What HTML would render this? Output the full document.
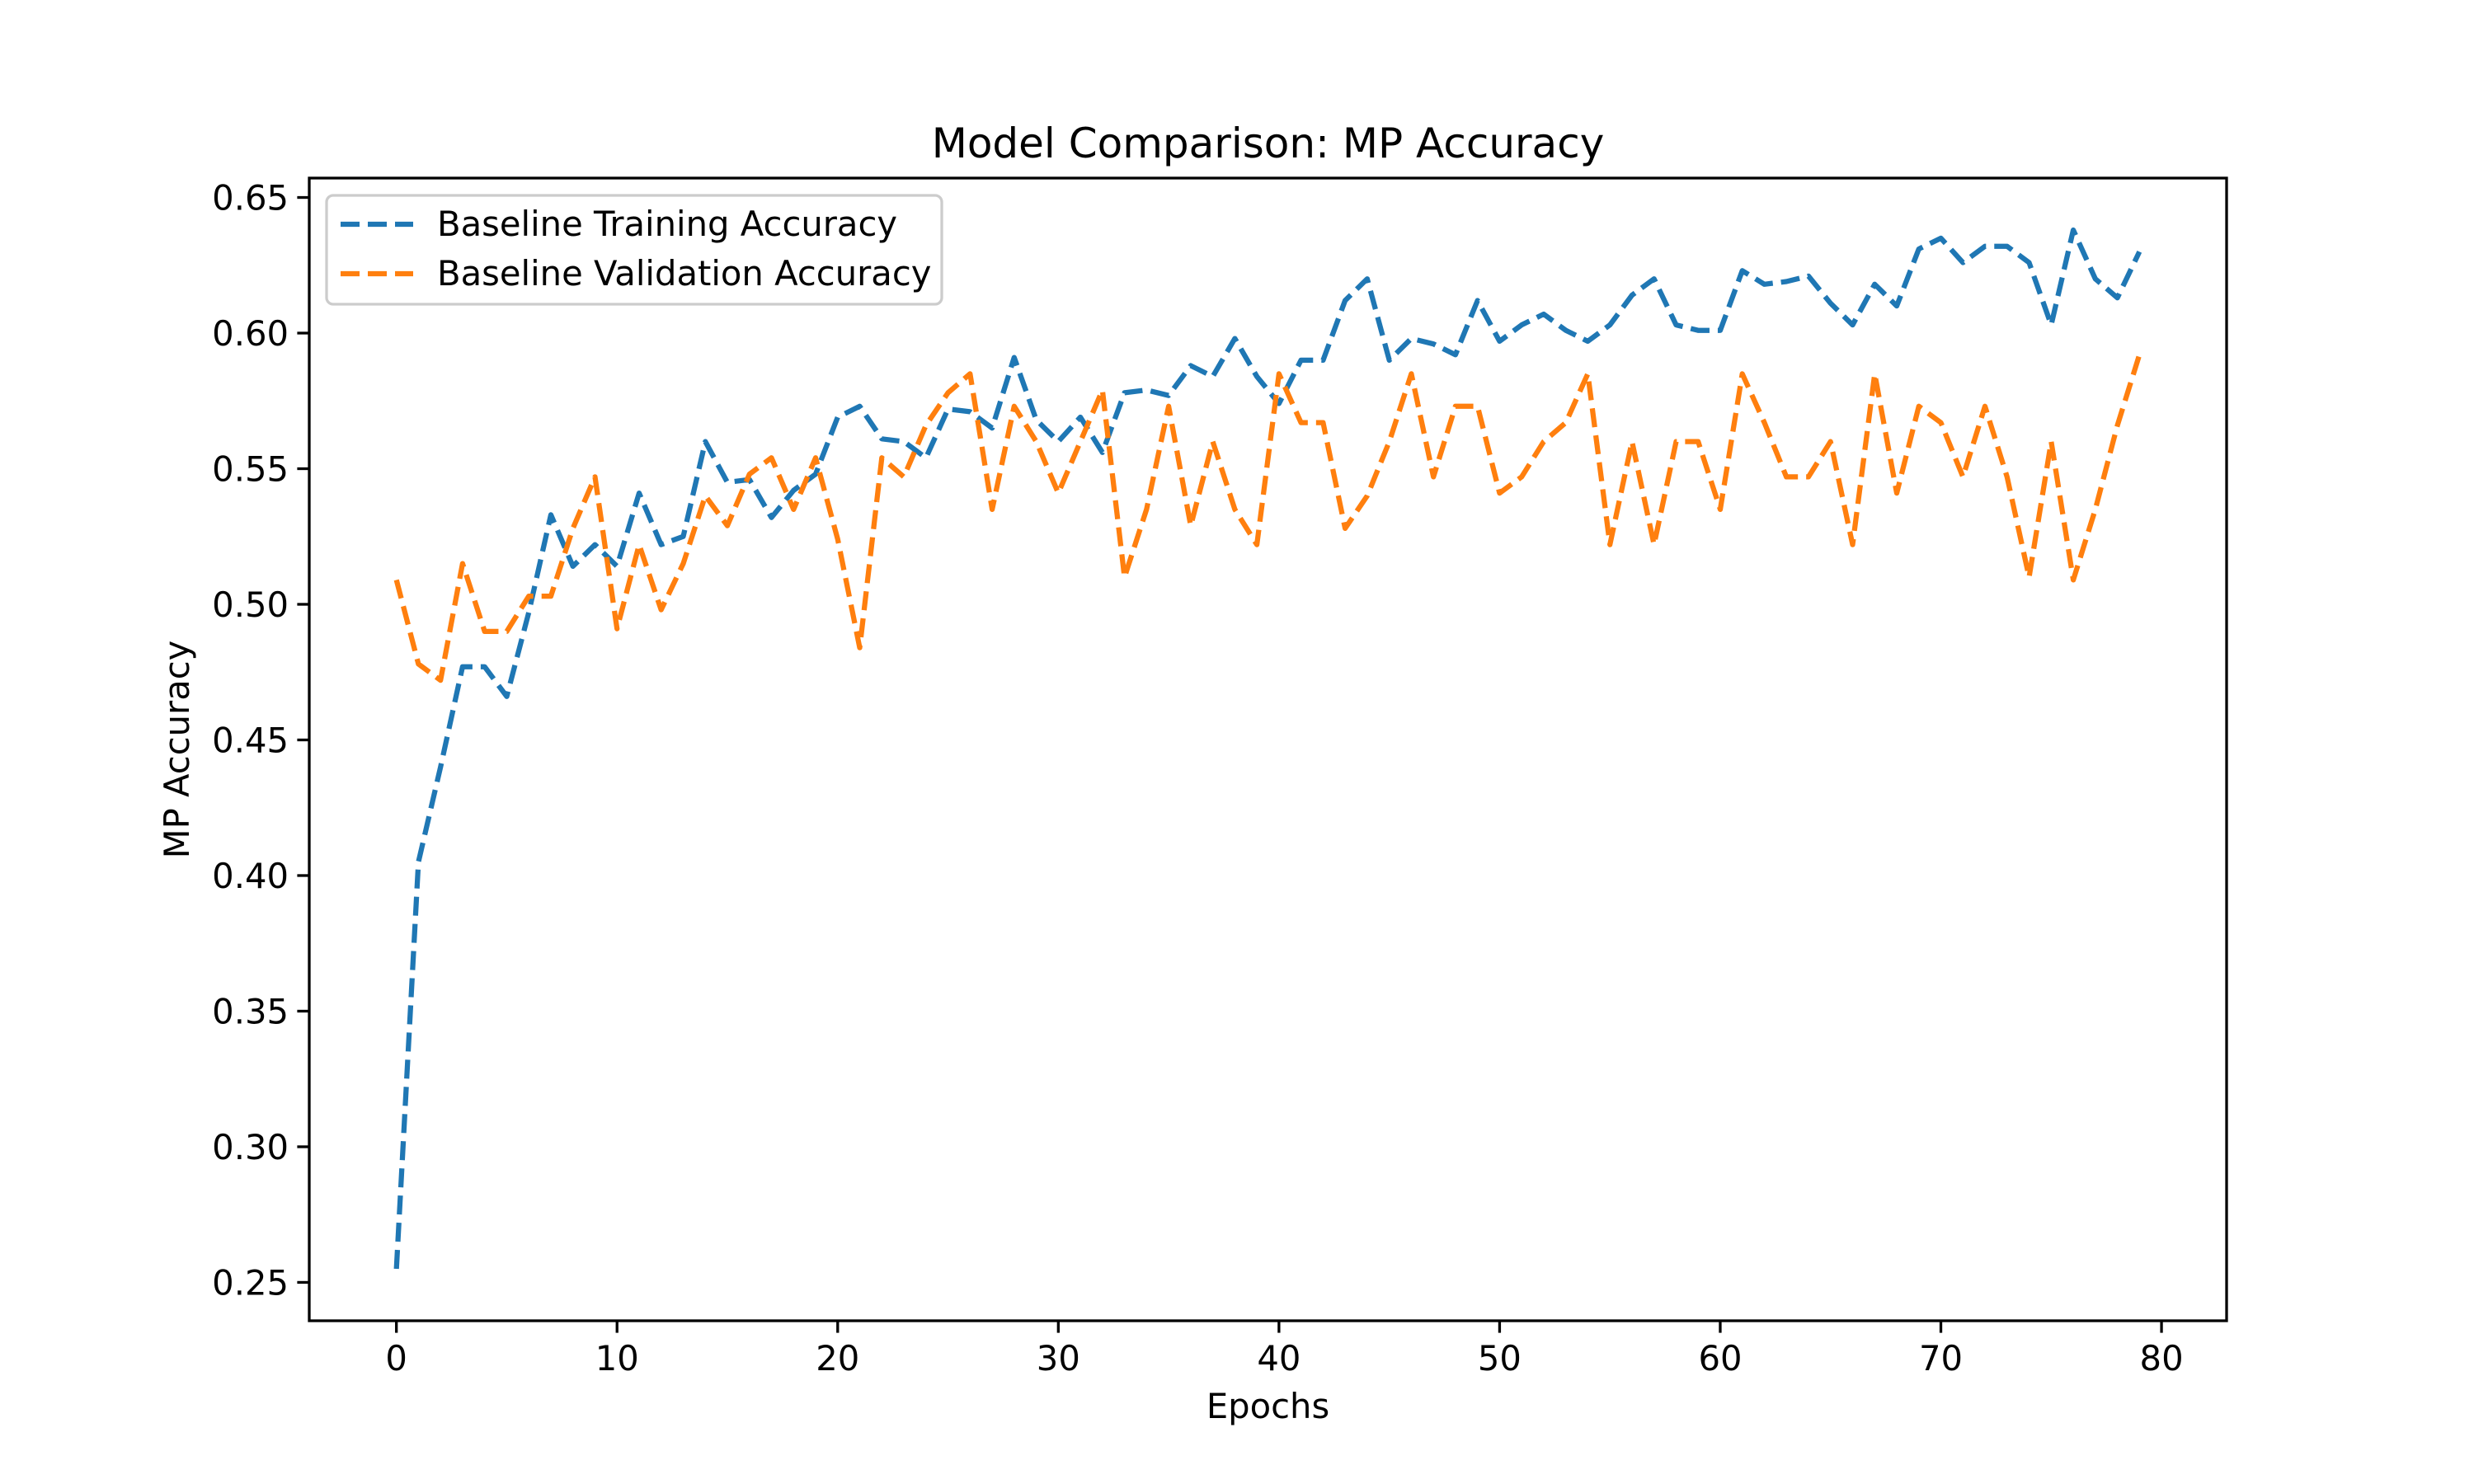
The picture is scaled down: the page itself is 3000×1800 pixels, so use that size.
<!DOCTYPE html>
<html><head><meta charset="utf-8"><style>
html,body{margin:0;padding:0;background:#fff;}
svg{display:block;font-family:"DejaVu Sans","Liberation Sans",sans-serif;}
</style></head><body>
<svg id="chart" width="3000" height="1800" viewBox="0 0 3000 1800">
<rect width="3000" height="1800" fill="#fff"/>
<text x="1537.5" y="191" font-size="50" text-anchor="middle" fill="#000">Model Comparison: MP Accuracy</text>
<g id="series"></g>
<rect x="375" y="216" width="2325" height="1386" fill="none" stroke="#000" stroke-width="3.3"/>
<g id="ticks"></g>
<text x="1537.5" y="1720" font-size="41.7" text-anchor="middle">Epochs</text>
<text x="0" y="0" font-size="41.7" text-anchor="middle" transform="translate(229,909) rotate(-90)">MP Accuracy</text>
<g>
<rect x="396" y="237" width="746" height="132" rx="8" fill="#fff" fill-opacity="0.8" stroke="#ccc" stroke-width="3.3"/>
<g>
<line x1="413" y1="272" x2="501" y2="272" stroke="#1f77b4" stroke-width="6.25" stroke-dasharray="23 10"/>
<text x="530" y="286" font-size="41.7">Baseline Training Accuracy</text>
</g>
<g>
<line x1="413" y1="332" x2="501" y2="332" stroke="#ff7f0e" stroke-width="6.25" stroke-dasharray="23 10"/>
<text x="530" y="346" font-size="41.7">Baseline Validation Accuracy</text>
</g>
</g>
</svg>
<script>
const epochs = Array.from({length:80},(_,i)=>i);
const trainAcc = [0.255,0.405,0.44,0.477,0.477,0.466,0.497,0.533,0.514,0.522,0.514,0.541,0.522,0.525,0.56,0.545,0.546,0.532,0.542,0.548,0.569,0.573,0.561,0.560,0.554,0.572,0.571,0.565,0.591,0.568,0.56,0.569,0.556,0.578,0.579,0.577,0.588,0.584,0.598,0.584,0.574,0.590,0.590,0.612,0.620,0.590,0.598,0.596,0.592,0.612,0.597,0.603,0.607,0.601,0.597,0.603,0.614,0.620,0.603,0.601,0.601,0.623,0.618,0.619,0.621,0.611,0.603,0.618,0.610,0.631,0.635,0.626,0.632,0.632,0.626,0.603,0.638,0.620,0.613,0.630];
const valAcc = [0.509,0.478,0.472,0.515,0.490,0.490,0.503,0.503,0.528,0.547,0.491,0.522,0.498,0.515,0.540,0.529,0.548,0.554,0.535,0.554,0.524,0.484,0.554,0.547,0.566,0.578,0.585,0.535,0.573,0.560,0.541,0.560,0.579,0.510,0.535,0.573,0.529,0.560,0.535,0.522,0.585,0.567,0.567,0.528,0.540,0.560,0.585,0.547,0.573,0.573,0.541,0.547,0.560,0.567,0.585,0.522,0.560,0.522,0.560,0.560,0.535,0.585,0.567,0.547,0.547,0.560,0.522,0.585,0.541,0.573,0.567,0.547,0.573,0.547,0.510,0.560,0.509,0.535,0.566,0.592];
const xTicks = [0,10,20,30,40,50,60,70,80];
const yTicks = [0.25,0.30,0.35,0.40,0.45,0.50,0.55,0.60,0.65];

const NS='http://www.w3.org/2000/svg';
const L=375,R=2700,T=216,B=1602;
const xmin=-3.95,xmax=82.95;
const allV=trainAcc.concat(valAcc);
const vmin=Math.min(...allV),vmax=Math.max(...allV),pad=(vmax-vmin)*0.05;
const ymin=vmin-pad,ymax=vmax+pad;
const xs=v=>L+(v-xmin)/(xmax-xmin)*(R-L);
const ys=v=>B-(v-ymin)/(ymax-ymin)*(B-T);

function mk(tag,attrs,parent){const e=document.createElementNS(NS,tag);for(const k in attrs)e.setAttribute(k,attrs[k]);parent.appendChild(e);return e;}
const ser=document.getElementById('series');
function drawLine(vals,color,name){
  const d=vals.map((v,i)=>(i?'L':'M')+xs(epochs[i]).toFixed(1)+' '+ys(v).toFixed(1)).join(' ');
  const p=mk('path',{d:d,fill:'none',stroke:color,'stroke-width':6.25,'stroke-dasharray':'23 10','stroke-linejoin':'round'},ser);
  
  
}
drawLine(trainAcc,'#1f77b4','training-accuracy-line');
drawLine(valAcc,'#ff7f0e','validation-accuracy-line');

const tk=document.getElementById('ticks');
xTicks.forEach(t=>{
  const x=xs(t);
  const l=mk('line',{x1:x,y1:B,x2:x,y2:B+14.6,stroke:'#000','stroke-width':3.3},tk);
  
  
  const tx=mk('text',{x:x,y:B+60,'font-size':41.7,'text-anchor':'middle'},tk);
  tx.textContent=String(t);
  
  
});
yTicks.forEach(t=>{
  const y=ys(t);
  const l=mk('line',{x1:L-14.6,y1:y,x2:L,y2:y,stroke:'#000','stroke-width':3.3},tk);
  
  
  const tx=mk('text',{x:L-25,y:y+15,'font-size':41.7,'text-anchor':'end'},tk);
  tx.textContent=t.toFixed(2);
  
  
});
</script>
</body></html>
